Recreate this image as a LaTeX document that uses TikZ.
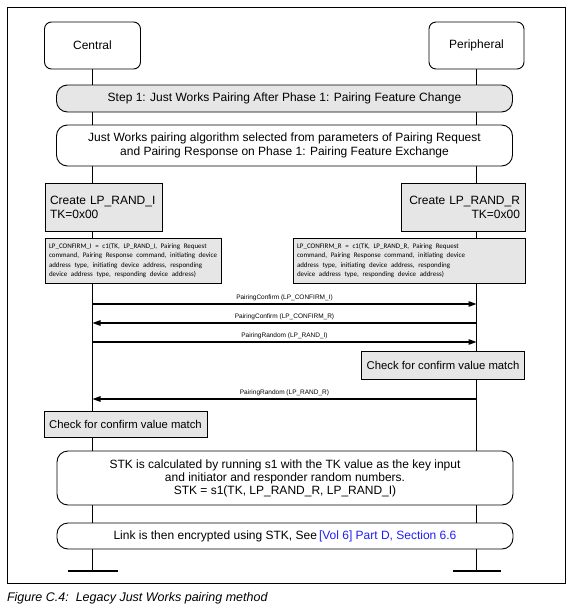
\documentclass[tikz,border=0pt]{standalone}
\usepackage{fontspec}
\setmainfont{Liberation Sans}
\newfontfamily\condfont{Carlito}
\usetikzlibrary{arrows.meta,backgrounds}
\definecolor{boxgray}{HTML}{E6E6E6}
\definecolor{linkblue}{HTML}{2020F0}
\newcommand{\conftext}[1]{\resizebox{168pt}{!}{\condfont\fontsize{7.6}{10.4}\selectfont\begin{tabular}{@{}l@{}}#1\end{tabular}}}
\begin{document}
\begin{tikzpicture}[x=1pt,y=-1pt,
  every node/.style={font=\fontsize{12}{14}\selectfont, inner sep=0pt, outer sep=0pt},
  actor/.style={draw, line width=0.9pt, rounded corners=7pt, fill=white, minimum width=96pt, minimum height=47pt},
  phase/.style={draw, line width=0.9pt, rounded corners=11pt, fill=white, minimum width=456pt, align=center},
  grayphase/.style={phase, fill=boxgray},
  action/.style={draw, line width=0.9pt, fill=boxgray, inner xsep=5pt},
  conf/.style={action, inner xsep=4pt, align=left, minimum height=45pt},
  check/.style={action, font=\fontsize{11.3}{13}\selectfont},
  msg/.style={line width=1.1pt, -{Triangle[length=8pt,width=5.5pt]}},
  msglabel/.style={font=\fontsize{6.5}{7}\selectfont},
  life/.style={line width=0.9pt},
  endbar/.style={line width=2.6pt},
]
\useasboundingbox (0,0) rectangle (572,610);
\draw[line width=0.9pt] (7,7) rectangle (565,583);

\node[actor] (central) at (92.5,45.5) {Central};
\node[actor, minimum width=95pt] (peripheral) at (476.5,45.5) {Peripheral};

\node[grayphase, minimum height=27pt] (step1) at (284.5,98.5) {Step 1: Just Works Pairing After Phase 1: Pairing Feature Change};
\node[phase, minimum height=41pt] (select) at (284.5,145.5) {Just Works pairing algorithm selected from parameters of Pairing Request\\and Pairing Response on Phase 1: Pairing Feature Exchange};

\node[action, text width=107pt, minimum height=48pt, align=left] (createI) at (103.5,207) {Create LP\_RAND\_I\\TK=0x00};
\node[action, text width=114pt, minimum height=48pt, align=right] (createR) at (463,207) {Create LP\_RAND\_R\\TK=0x00};

\node[conf, text width=168pt] (confI) at (133,260.5) {\conftext{LP\_CONFIRM\_I = c1(TK, LP\_RAND\_I, Pairing Request\\command, Pairing Response command, initiating device\\address type, initiating device address, responding\\device address type, responding device address)}};
\node[conf, text width=224pt] (confR) at (409,260.5) {\conftext{LP\_CONFIRM\_R = c1(TK, LP\_RAND\_R, Pairing Request\\command, Pairing Response command, initiating device\\address type, initiating device address, responding\\device address type, responding device address)}};

\coordinate (c1) at (92.5,304); \coordinate (p1) at (476.5,304);
\coordinate (c2) at (92.5,323); \coordinate (p2) at (476.5,323);
\coordinate (c3) at (92.5,342); \coordinate (p3) at (476.5,342);
\coordinate (c4) at (92.5,399); \coordinate (p4) at (476.5,399);

\draw[msg] (c1) -- node[msglabel, above=3.5pt] (m1) {PairingConfirm (LP\_CONFIRM\_I)} (p1);
\draw[msg] (p2) -- node[msglabel, above=3.5pt] (m2) {PairingConfirm (LP\_CONFIRM\_R)} (c2);
\draw[msg] (c3) -- node[msglabel, above=3.5pt] (m3) {PairingRandom (LP\_RAND\_I)} (p3);
\draw[msg] (p4) -- node[msglabel, above=3.5pt] (m4) {PairingRandom (LP\_RAND\_R)} (c4);

\node[check, minimum width=162pt, minimum height=28pt] (checkR) at (443,365) {Check for confirm value match};
\node[check, minimum width=163pt, minimum height=26pt] (checkL) at (125.5,424) {Check for confirm value match};

\node[phase, minimum height=54pt, font=\fontsize{12}{13}\selectfont] (stk) at (285,478) {STK is calculated by running s1 with the TK value as the key input\\and initiator and responder random numbers.\\STK = s1(TK, LP\_RAND\_R, LP\_RAND\_I)};
\node[phase, minimum height=26pt] (link) at (285,536) {Link is then encrypted using STK, See\,{\color{linkblue}[Vol 6] Part D, Section 6.6}};

\coordinate (cEnd) at (92.5,571);
\coordinate (pEnd) at (476.5,571);
\draw[endbar] ([xshift=-25pt]cEnd) -- ([xshift=25pt]cEnd);
\draw[endbar] ([xshift=-24pt]pEnd) -- ([xshift=24pt]pEnd);

\begin{scope}[on background layer]
\draw[life] (central) -- (cEnd);
\draw[life] (peripheral) -- (pEnd);
\end{scope}

\node[anchor=west, font=\itshape\fontsize{12.5}{14}\selectfont] (caption) at (7,598) {Figure C.4:\ \ Legacy Just Works pairing method};
\end{tikzpicture}
\end{document}
